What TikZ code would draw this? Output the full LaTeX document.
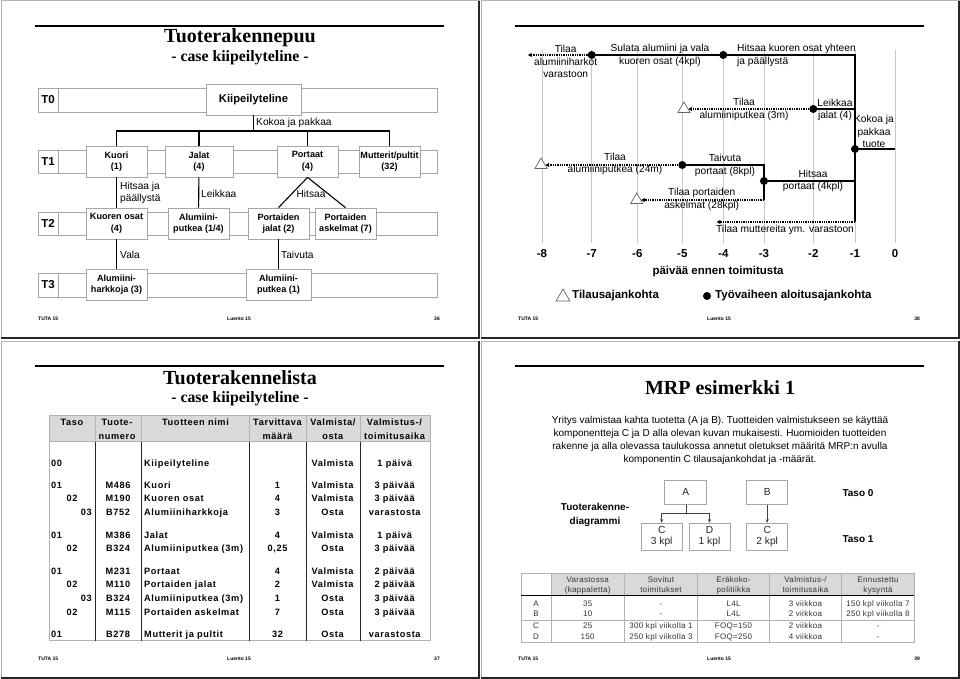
\documentclass[tikz,border=0pt]{standalone}
\usepackage{fontspec}
\setmainfont{Liberation Sans}
\newfontfamily\ttlfont{Liberation Serif}
\usetikzlibrary{arrows.meta,shapes.geometric}

\begin{document}
\begin{tikzpicture}[x=1pt,y=-1pt,
  ttl/.style={inner sep=0pt,font=\ttlfont\bfseries\fontsize{20}{22}\selectfont},
  sub/.style={inner sep=0pt,font=\ttlfont\bfseries\fontsize{15.8}{18}\selectfont},
  foot/.style={inner sep=0pt,font=\fontsize{5}{6}\selectfont\bfseries},
  band/.style={draw=gray!70,line width=0.8pt},
  box/.style={draw=gray!70,fill=white,line width=0.8pt,align=center,inner sep=1pt,minimum height=31pt,font=\fontsize{9.1}{11.5}\selectfont\bfseries},
  tlab/.style={inner sep=0pt,font=\fontsize{11.5}{13}\selectfont\bfseries},
  lbl/.style={align=center,inner sep=0pt,font=\fontsize{10.2}{12.5}\selectfont},
  edge/.style={line width=1.1pt},
  dot/.style={circle,fill=black,minimum size=8pt,inner sep=0pt},
  tri/.style={regular polygon,regular polygon sides=3,draw=gray!80!black,fill=white,minimum size=14pt,inner sep=0pt,line width=0.7pt},
  work/.style={line width=1.4pt},
  order/.style={line width=1.3pt,densely dotted,-{Stealth[length=4pt,width=4.5pt]}},
  big/.style={inner sep=0pt,font=\fontsize{11.5}{13}\selectfont\bfseries},
  cell/.style={inner sep=0pt,anchor=base,yshift=-3.3pt,font=\fontsize{9.2}{11}\selectfont\bfseries\addfontfeature{LetterSpace=7}},
  para/.style={align=center,inner sep=0pt,font=\fontsize{10}{13.1}\selectfont},
  mbox/.style={draw=gray!70,line width=0.9pt,align=center,inner sep=0pt,font=\fontsize{10.2}{11.5}\selectfont,text=black!85},
  mlab/.style={align=center,inner sep=0pt,font=\fontsize{10}{13.3}\selectfont\bfseries},
  arr/.style={line width=0.6pt,black!75,-{Stealth[length=3.5pt,width=3pt]}},
  cell2/.style={inner sep=0pt,anchor=base,yshift=-2.9pt,text=black!80,font=\fontsize{8}{10}\selectfont\addfontfeature{LetterSpace=4}}]

\fill[white] (0,0) rectangle (960,679);
\useasboundingbox (0,0) rectangle (960,679);

% slide frames, header rules and footers
\foreach \ox/\oy/\pg in {0/0/36,480/0/38,0/340/37,480/340/39}{
  \draw[gray!60,line width=1pt] (\ox+1,\oy+1) rectangle (\ox+479,\oy+338);
  \draw[black!85,line width=1.6pt] (\ox+1,\oy+338) -- (\ox+479,\oy+338) -- (\ox+479,\oy+1);
  \draw[line width=1.5pt] (\ox+35,\oy+26) -- (\ox+444,\oy+26);
  \node[foot,anchor=west] (tuta\pg) at (\ox+38,\oy+319) {TUTA 15};
  \node[foot] (luento\pg) at (\ox+239,\oy+319) {Luento 15};
  \node[foot,anchor=east] (sivu\pg) at (\ox+440,\oy+319) {\pg};
}

% --- Tuoterakennepuu
\node[ttl] (ttl36) at (240,38) {Tuoterakennepuu};
\node[sub] (sub36) at (240,58) {- case kiipeilyteline -};
\foreach \t/\ya/\yb in {T0/88/112,T1/150/173,T2/212/235,T3/273/297}{
  \draw[band] (38,\ya) rectangle (437,\yb) (58,\ya) -- (58,\yb);
  \node[tlab] (lab\t) at (48,{(\ya+\yb)/2}) {\t};
}
\node[box,minimum width=95pt,font=\fontsize{11.2}{13}\selectfont\bfseries] (kiip) at (253.5,99.5) {Kiipeilyteline};
\node[box,minimum width=61pt] (kuori) at (116.5,161.5) {Kuori\\(1)};
\node[box,minimum width=68pt] (jalat) at (199,161.5) {Jalat\\(4)};
\node[box,minimum width=61pt] (portaat) at (307.5,161.5) {Portaat\\(4)};
\node[box,minimum width=61pt] (mutt) at (389.5,161.5) {Mutterit/pultit\\(32)};
\node[box,minimum width=61pt] (kosat) at (116.5,223.5) {Kuoren osat\\(4)};
\node[box,minimum width=61pt] (putki) at (198.5,223.5) {Alumiini-\\putkea (1/4)};
\node[box,minimum width=61pt] (pjalat) at (278.5,223.5) {Portaiden\\jalat (2)};
\node[box,minimum width=61pt] (pask) at (345.5,223.5) {Portaiden\\askelmat (7)};
\node[box,minimum width=61pt] (harkko) at (116.5,284.5) {Alumiini-\\harkkoja (3)};
\node[box,minimum width=65pt] (putki1) at (278.5,284.5) {Alumiini-\\putkea (1)};
\coordinate (j0) at (253.5,131);
\draw[edge] (kiip) -- (j0);
\foreach \n in {kuori,jalat,portaat,mutt} \draw[edge] (j0) -| (\n.north);
\draw[edge] (kuori) -- (kosat);
\draw[edge] (jalat) -- (putki);
\draw[edge] (portaat.south) -- (pjalat.north);
\draw[edge] (portaat.south) -- (pask.north);
\draw[edge] (kosat) -- (harkko);
\draw[edge] (pjalat) -- (putki1);
\node[lbl,anchor=west] (kokoa) at (256,123) {Kokoa ja pakkaa};
\node[lbl,anchor=west,align=left] (hitsaa1) at (120,193) {Hitsaa ja\\päällystä};
\node[lbl,anchor=west] (leikkaa1) at (201,194) {Leikkaa};
\node[lbl] (hitsaa2) at (311,194) {Hitsaa};
\node[lbl,anchor=west] (vala) at (120,255) {Vala};
\node[lbl,anchor=west] (taivuta1) at (281,255) {Taivuta};

% --- aikataulu
\foreach \d/\x [count=\i] in {-8/542,-7/591.7,-6/637.3,-5/682.3,-4/723.3,-3/764,-2/813.3,-1/855,0/895}{
  \draw[gray!45,line width=0.8pt] (\x,50) -- (\x,243);
  \node[big,anchor=base,yshift=-4.2pt] (day\i) at (\x,253) {\d};
}
\node[dot] (r1a) at (591.7,55) {};
\node[dot] (r1b) at (723.3,55) {};
\node[dot] (r2) at (813.3,109) {};
\node[dot] (r3) at (855,149) {};
\node[dot] (r4) at (682.3,165) {};
\node[dot] (r5) at (764,181) {};
\node[tri] (t2) at (684,109) {};
\node[tri] (t4) at (541,165) {};
\node[tri] (t6) at (636.7,200) {};
\coordinate (k1) at (855,55);
\coordinate (k2) at (855,222);
\coordinate (j2) at (855,109);
\coordinate (out) at (895,149);
\coordinate (k3) at (764,165);
\coordinate (k4) at (764,200);
\coordinate (j5) at (855,181);
\coordinate (a1) at (528,55);
\coordinate (a5) at (716.7,222);
\draw[work] (r1a.center) -- (k1) -- (k2);
\draw[work] (r2.center) -- (j2);
\draw[work] (r3.center) -- (out);
\draw[work] (r4.center) -- (k3) -- (k4);
\draw[work] (r5.center) -- (j5);
\draw[order] (r1a) -- (a1);
\draw[order] (r2) -- (t2);
\draw[order] (r4) -- (t4);
\draw[order] (k4) -- (t6);
\draw[order] (k2) -- (a5);
\node[lbl] (tl1) at (565.7,61.5) {Tilaa\\alumiiniharkot\\varastoon};
\node[lbl] (tl2) at (660,55.5) {Sulata alumiini ja vala\\kuoren osat (4kpl)};
\node[lbl,anchor=west,align=left] (tl3) at (737,55.5) {Hitsaa kuoren osat yhteen\\ja päällystä};
\node[lbl] (tl4) at (744,109.5) {Tilaa\\alumiiniputkea (3m)};
\node[lbl] (tl5) at (835,110) {Leikkaa\\jalat (4)};
\node[lbl] (tl6) at (874,131.5) {Kokoa ja\\pakkaa\\tuote};
\node[lbl] (tl7) at (615,164) {Tilaa\\alumiiniputkea (24m)};
\node[lbl] (tl8) at (725,165.5) {Taivuta\\portaat (8kpl)};
\node[lbl] (tl9) at (813,181) {Hitsaa\\portaat (4kpl)};
\node[lbl] (tl10) at (701.7,199.5) {Tilaa portaiden\\askelmat (28kpl)};
\node[lbl] (tl11) at (785,230) {Tilaa muttereita ym. varastoon};
\node[big] (akseli) at (718,272) {päivää ennen toimitusta};
\node[tri,minimum size=16pt] (legt) at (563,297) {};
\node[big,anchor=west] (legtx) at (572,296) {Tilausajankohta};
\node[dot] (legd) at (707,296) {};
\node[big,anchor=west] (legdx) at (715,296) {Työvaiheen aloitusajankohta};

% --- Tuoterakennelista
\node[ttl] (ttl37) at (240,378) {Tuoterakennelista};
\node[sub] (sub37) at (240,398.5) {- case kiipeilyteline -};
\fill[gray!30] (49,415) rectangle (430,441.7);
\draw[gray!60,line width=1pt] (49,415) rectangle (430,640.7) (49,441.7) -- (430,441.7);
\foreach \x in {95,141,249,306,360}{
  \draw[gray!60,line width=1pt] (\x,415) -- (\x,441.7);
  \draw[black!85,line width=1pt] (\x,441.7) -- (\x,640.7);
}
\node[cell] (hTaso) at (72,422) {Taso};
\node[cell] (hNimi) at (195.5,422) {Tuotteen nimi};
\foreach \x/\ha/\hb [count=\i] in {117/Tuote-/numero,277.5/Tarvittava/määrä,332.8/{Valmista/}/osta,394.5/{Valmistus-/}/toimitusaika}{
  \node[cell] (ha\i) at (\x,422) {\ha};
  \node[cell] (hb\i) at (\x,436) {\hb};
}
\foreach \yy/\tas/\tx/\tan/\nro/\nimi/\maara/\vo/\aika [count=\i] in {
  463.3/00/51/base west/{}/Kiipeilyteline/{}/Valmista/1 päivä,
  485/01/51/base west/M486/Kuori/1/Valmista/3 päivää,
  498.3/02/72/base/M190/Kuoren osat/4/Valmista/3 päivää,
  511.7/03/92/base east/B752/Alumiiniharkkoja/3/Osta/varastosta,
  535/01/51/base west/M386/Jalat/4/Valmista/1 päivä,
  548.3/02/72/base/B324/Alumiiniputkea (3m)/{0,25}/Osta/3 päivää,
  570.7/01/51/base west/M231/Portaat/4/Valmista/2 päivää,
  584/02/72/base/M110/Portaiden jalat/2/Valmista/2 päivää,
  598.3/03/92/base east/B324/Alumiiniputkea (3m)/1/Osta/3 päivää,
  611.7/02/72/base/M115/Portaiden askelmat/7/Osta/3 päivää,
  634/01/51/base west/B278/Mutterit ja pultit/32/Osta/varastosta}{
  \node[cell,anchor=\tan] (taso\i) at (\tx,\yy) {\tas};
  \node[cell] (nro\i) at (118,\yy) {\nro};
  \node[cell,anchor=base west] (nimi\i) at (144,\yy) {\nimi};
  \node[cell] (maara\i) at (277.5,\yy) {\maara};
  \node[cell] (vo\i) at (332.5,\yy) {\vo};
  \node[cell] (aika\i) at (394.7,\yy) {\aika};
}

% --- MRP esimerkki 1
\node[ttl] (ttl39) at (720,388) {MRP esimerkki 1};
\node[para] (intro) at (720,440.5) {Yritys valmistaa kahta tuotetta (A ja B). Tuotteiden valmistukseen se käyttää\\komponentteja C ja D alla olevan kuvan mukaisesti. Huomioiden tuotteiden\\rakenne ja alla olevassa taulukossa annetut oletukset määritä MRP:n avulla\\komponentin C tilausajankohdat ja -määrät.};
\node[mbox,minimum width=42pt,minimum height=24pt] (A) at (685.8,492.2) {A};
\node[mbox,minimum width=41pt,minimum height=24pt] (B) at (767.2,492.2) {B};
\node[mbox,minimum width=41pt,minimum height=27pt] (C1) at (661.7,536.7) {C\\3 kpl};
\node[mbox,minimum width=41pt,minimum height=27pt] (D1) at (709.5,536.7) {D\\1 kpl};
\node[mbox,minimum width=41pt,minimum height=27pt] (C2) at (767.2,536.7) {C\\2 kpl};
\coordinate (Aj) at (685.8,513.3);
\draw[line width=0.6pt,black!75] (A) -- (Aj);
\draw[arr] (Aj) -| (C1);
\draw[arr] (Aj) -| (D1);
\draw[arr] (B) -- (C2);
\node[mlab] (diag) at (595,515) {Tuoterakenne-\\diagrammi};
\node[mlab] (taso0) at (858,492.7) {Taso 0};
\node[mlab] (taso1) at (858,539) {Taso 1};
\fill[gray!30] (551,573.3) rectangle (914.3,595.7);
\draw[gray!60,line width=0.8pt] (521,573.3) rectangle (914.3,642.3) (521,620) -- (914.3,620);
\foreach \x in {551,624.3,697.7,769.3,841.7} \draw[gray!60,line width=0.8pt] (\x,573.3) -- (\x,642.3);
\draw[line width=1.5pt] (521,595.7) -- (914.3,595.7);
\foreach \x/\ha/\hb [count=\i] in {587.7/Varastossa/(kappaletta),661/Sovitut/toimitukset,733.5/Eräkoko-/politiikka,805.5/{Valmistus-/}/toimitusaika,878/Ennustettu/kysyntä}{
  \node[cell2] (hh\i) at (\x,580) {\ha};
  \node[cell2] (hl\i) at (\x,590) {\hb};
}
\foreach \yy/\tu/\va/\so/\er/\vt/\en [count=\i] in {
  603.3/A/35/-/L4L/3 viikkoa/150 kpl viikolla 7,
  613.3/B/10/-/L4L/2 viikkoa/250 kpl viikolla 8,
  625.7/C/25/300 kpl viikolla 1/FOQ=150/2 viikkoa/-,
  636.7/D/150/250 kpl viikolla 3/FOQ=250/4 viikkoa/-}{
  \node[cell2] (tu\i) at (536,\yy) {\tu};
  \node[cell2] (va\i) at (587.7,\yy) {\va};
  \node[cell2] (so\i) at (661,\yy) {\so};
  \node[cell2] (er\i) at (733.5,\yy) {\er};
  \node[cell2] (vt\i) at (805.5,\yy) {\vt};
  \node[cell2] (en\i) at (878,\yy) {\en};
}
\end{tikzpicture}
\end{document}
